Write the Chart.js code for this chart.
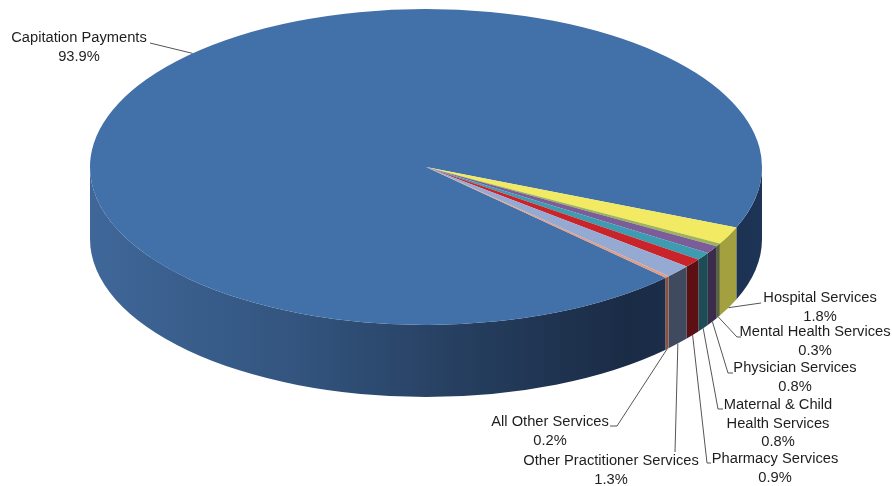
<!DOCTYPE html>
<html>
<head>
<meta charset="utf-8">
<script src="https://cdn.jsdelivr.net/npm/chart.js@4.4.1/dist/chart.umd.min.js"></script>
<style>
  html, body { margin: 0; padding: 0; background: #fff; }
</style>
</head>
<body>
<canvas id="pieChart" width="892" height="486"></canvas>
<script>
// data
const categories = ['Capitation Payments', 'Hospital Services', 'Mental Health Services', 'Physician Services',
  'Maternal & Child Health Services', 'Pharmacy Services', 'Other Practitioner Services', 'All Other Services'];
const shares = [93.9, 1.8, 0.3, 0.8, 0.8, 0.9, 1.3, 0.2];
const labelLines = [['Capitation Payments'], ['Hospital Services'], ['Mental Health Services'], ['Physician Services'],
  ['Maternal & Child', 'Health Services'], ['Pharmacy Services'], ['Other Practitioner Services'], ['All Other Services']];

const topColors = ['#4171A8', '#F2EA62', '#9CB457', '#7B5E99', '#3D9CB0', '#C8242A', '#95AAD3', '#E59A80'];
const sideColors = [null, '#A3A040', '#56662C', '#3A2C4A', '#1E4C56', '#5C1013', '#3F4A5E', '#8A5242'];

// layout of the flattened pie
const CX = 426, CY = 167;   // centre of the top face
const TILT = 0.47;          // vertical squash
const DEPTH = 72;           // thickness of the pie

// label placement: text centre, first line y, elbow of leader, tick end
const labelPos = [
  { x: 79,  y: 38,  elbow: [150, 43], tick: null, anchorDeg: 226 },
  { x: 820, y: 298, elbow: [761, 303], tick: null },
  { x: 815, y: 332, elbow: [737, 337], tick: [741, 337] },
  { x: 795, y: 368, elbow: [728, 373], tick: [733, 373] },
  { x: 778, y: 405, elbow: [718, 409], tick: [723, 409] },
  { x: 775, y: 459, elbow: [707, 463], tick: [711, 463] },
  { x: 611, y: 461, elbow: [675, 452], tick: null },
  { x: 550, y: 422, elbow: [617, 426], tick: [610, 426] }
];

function sidePath(ctx, a, b, t0, t1) {
  ctx.beginPath();
  ctx.ellipse(CX, CY, a, b, 0, t0, t1);
  ctx.ellipse(CX, CY + DEPTH, a, b, 0, t1, t0, true);
  ctx.closePath();
}

const pie3d = {
  id: 'pie3d',
  beforeDatasetsDraw(chart) {
    const ctx = chart.ctx;
    const arcs = chart.getDatasetMeta(0).data;
    const a = arcs[0].outerRadius;
    const b = a * TILT;

    // front walls, only where the rim faces the viewer
    arcs.forEach((arc, i) => {
      let fill = sideColors[i];
      if (!fill) {
        const g = ctx.createLinearGradient(CX - a, 0, CX + a, 0);
        g.addColorStop(0, '#3F6799');
        g.addColorStop(0.3, '#33557F');
        g.addColorStop(0.55, '#263F60');
        g.addColorStop(0.8, '#1A2B45');
        g.addColorStop(1, '#1D3456');
        fill = g;
      }
      for (let k = -1; k <= 2; k++) {
        const lo = Math.max(arc.startAngle, k * 2 * Math.PI);
        const hi = Math.min(arc.endAngle, k * 2 * Math.PI + Math.PI);
        if (hi > lo) {
          sidePath(ctx, a, b, lo, hi);
          ctx.fillStyle = fill;
          ctx.fill();
        }
      }
    });

    // squash the top face
    ctx.save();
    ctx.translate(CX, CY);
    ctx.scale(1, TILT);
    ctx.translate(-arcs[0].x, -arcs[0].y);
  },
  afterDatasetsDraw(chart) {
    const ctx = chart.ctx;
    ctx.restore();
    const arcs = chart.getDatasetMeta(0).data;
    const a = arcs[0].outerRadius;
    const b = a * TILT;
    const total = shares.reduce((s, v) => s + v, 0);

    ctx.save();
    ctx.strokeStyle = '#555';
    ctx.lineWidth = 1;
    ctx.fillStyle = '#1E1E1E';
    ctx.font = '14.7px "Liberation Sans", Arial, sans-serif';
    ctx.textAlign = 'center';
    ctx.textBaseline = 'middle';

    arcs.forEach((arc, i) => {
      const p = labelPos[i];
      let ax, ay;
      if (p.anchorDeg !== undefined) {
        const t = p.anchorDeg * Math.PI / 180;
        ax = CX + a * Math.cos(t);
        ay = CY + b * Math.sin(t);
      } else {
        const t = (arc.startAngle + arc.endAngle) / 2;
        ax = CX + a * Math.cos(t);
        ay = CY + DEPTH + b * Math.sin(t);
      }
      ctx.beginPath();
      ctx.moveTo(ax, ay);
      ctx.lineTo(p.elbow[0], p.elbow[1]);
      if (p.tick) ctx.lineTo(p.tick[0], p.tick[1]);
      ctx.stroke();

      const lines = labelLines[i].concat([(shares[i] / total * 100).toFixed(1) + '%']);
      lines.forEach((txt, j) => ctx.fillText(txt, p.x, p.y + j * 18.5));
    });
    ctx.restore();
  }
};

new Chart(document.getElementById('pieChart'), {
  type: 'pie',
  data: {
    labels: categories,
    datasets: [{
      data: shares,
      backgroundColor: topColors,
      borderWidth: 0,
      clip: false
    }]
  },
  options: {
    responsive: false,
    animation: false,
    devicePixelRatio: 1,
    rotation: 134.5,
    radius: 336,
    layout: { padding: 0 },
    plugins: {
      legend: { display: false },
      tooltip: { enabled: false }
    }
  },
  plugins: [pie3d]
});
</script>
</body>
</html>
